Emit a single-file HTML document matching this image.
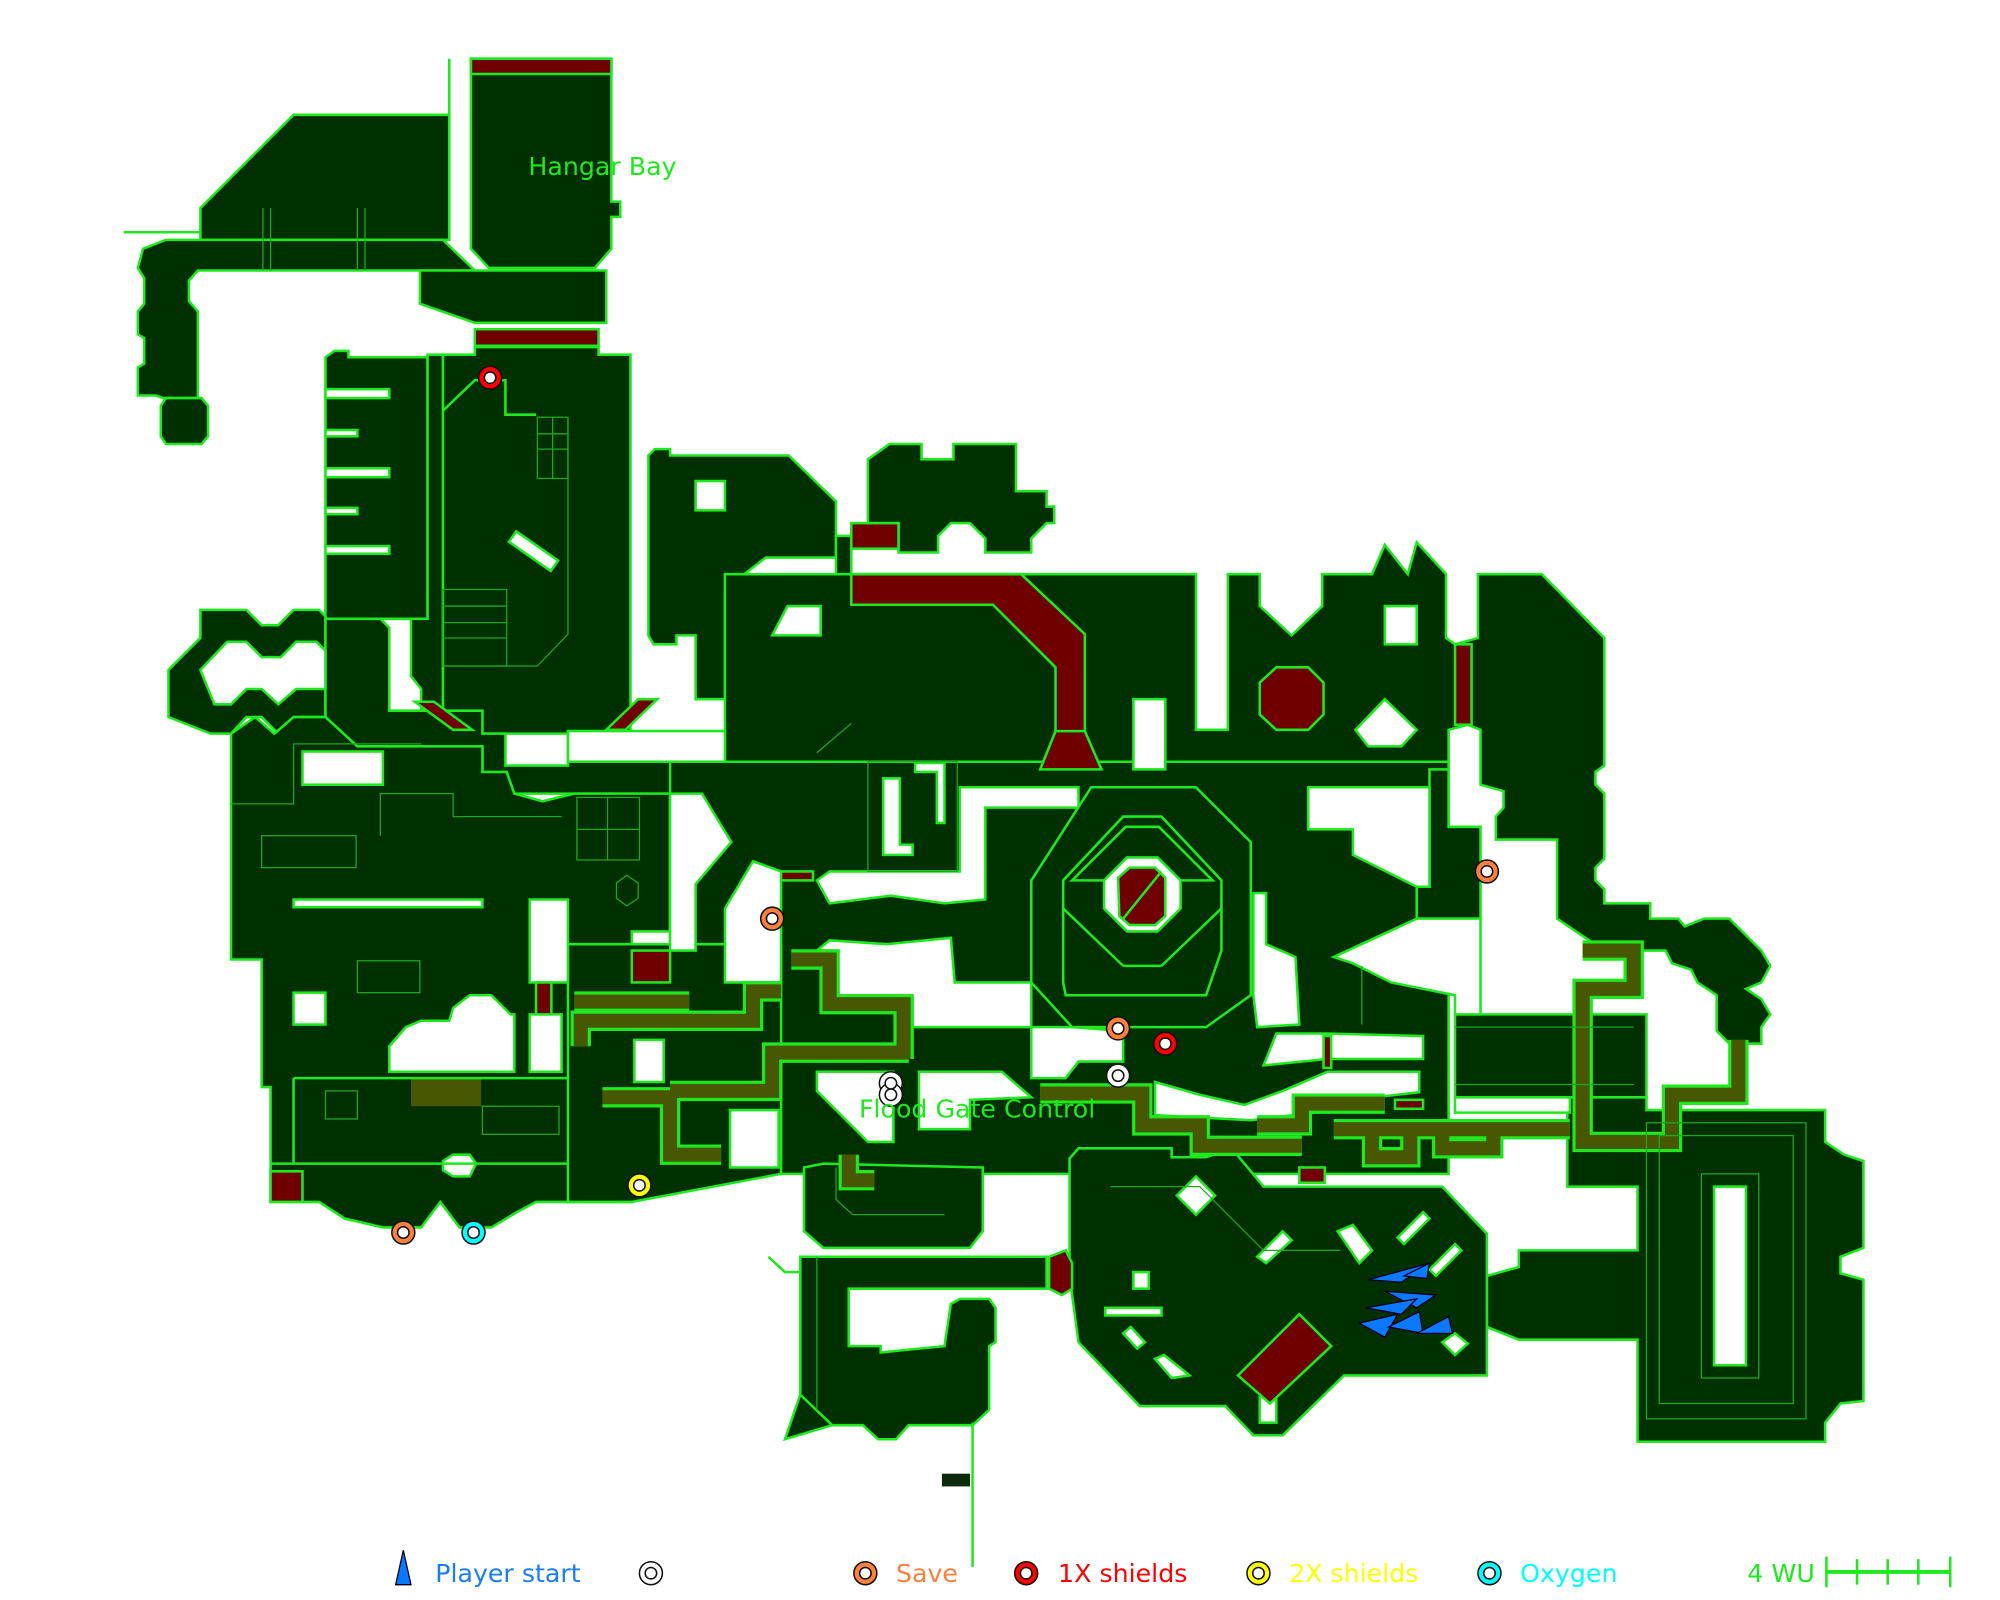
<!DOCTYPE html>
<html><head><meta charset="utf-8"><style>html,body{margin:0;padding:0;background:#fff}svg{display:block}</style></head>
<body>
<svg width="2000" height="1600" viewBox="0 0 1567 1254" preserveAspectRatio="none" xmlns="http://www.w3.org/2000/svg">
<rect width="1567" height="1254" fill="#fff"/>
<g fill="#002f00" stroke="#1ee81e" stroke-width="2" stroke-linejoin="miter">
<polygon points="157,163 230,90 352,90 352,188 157,188"/>
<polygon points="112,195 130,188 347,188 372,212 155,212 148,220 148,236 155,244 155,312 128,312 122,310 108,310 108,288 113,285 113,265 108,262 108,244 113,238 113,218 108,210"/>
<polygon points="130,312 158,312 163,318 163,342 158,348 130,348 126,342 126,318"/>
<polygon points="369,46 479,46 479,158 486,158 486,170 479,170 479,195 466,210 383,210 369,195"/>
<polygon points="329,212 475,212 475,253 372,253 329,238"/>
<polygon points="347,278 372,278 372,272 469,272 469,278 494,278 494,575 347,575"/>
<polygon points="255,280 262,275 273,275 273,280 335,280 335,485 255,485"/>
<polygon points="132,525 157,500 157,478 193,478 205,490 218,490 230,478 250,478 255,483 255,562 230,562 218,575 205,562 193,562 181,575 165,575 132,562"/>
<polygon points="255,485 298,485 305,492 305,557 378,557 378,575 396,575 396,600 445,600 445,573 568,573 568,597 548,597 548,622 378,622 378,585 280,585 255,562"/>
<polygon points="305,485 335,485 335,278 347,278 347,557 330,557 330,540 322,530 322,485"/>
<polygon points="181,575 200,562 215,575 230,562 255,562 280,585 378,585 378,605 397,605 403,622 425,628 450,622 525,622 525,730 495,730 495,942 420,942 405,950 385,962 360,962 345,942 330,962 300,962 270,955 250,942 212,942 212,852 205,852 205,752 181,752"/>
<polygon points="508,357 513,352 525,352 525,357 618,357 655,393 655,437 600,437 583,450 568,465 568,548 545,548 545,498 530,498 530,505 512,505 508,498"/>
<polygon points="680,360 697,348 722,348 722,360 747,360 747,348 796,348 796,385 820,385 820,397 826,397 826,410 820,410 808,422 808,433 772,433 772,422 760,410 745,410 735,420 735,433 704,433 704,410 680,410"/>
<polygon points="568,450 937,450 937,572 962,572 962,450 987,450 987,475 1012,498 1036,475 1036,450 1075,450 1085,427 1103,450 1110,425 1133,450 1133,500 1140,505 1158,500 1158,450 1208,450 1257,500 1257,600 1250,605 1250,615 1257,622 1257,673 1250,680 1250,690 1257,697 1257,708 1293,708 1293,720 1315,720 1320,726 1335,720 1355,720 1380,745 1387,757 1380,770 1368,775 1380,783 1387,795 1380,805 1380,818 1355,818 1345,808 1345,780 1330,770 1325,760 1310,755 1305,745 1257,745 1220,720 1220,658 1172,658 1172,640 1178,633 1178,620 1160,615 1160,572 1150,568 1135,572 1135,603 568,603"/>
<polygon points="655,420 667,420 667,450 655,450"/>
<polygon points="525,597 1135,597 1135,920 525,920"/>
<polygon points="1120,603 1135,603 1135,648 1160,648 1160,720 1110,720 1110,695 1120,695"/>
<polygon points="445,740 612,740 612,920 495,942 445,942"/>
<polygon points="1140,795 1290,795 1290,860 1140,860"/>
<polygon points="1228,860 1290,860 1290,870 1430,870 1430,895 1445,905 1460,910 1460,978 1442,985 1442,998 1460,1003 1460,1098 1442,1100 1430,1115 1430,1130 1283,1130 1283,1050 1190,1050 1165,1040 1165,1000 1190,993 1190,980 1283,980 1283,930 1228,930"/>
<polygon points="838,908 845,900 918,900 918,907 945,907 965,900 990,930 1130,930 1165,967 1165,1078 1053,1078 1005,1125 982,1125 960,1102 893,1102 845,1052 838,1000"/>
<polygon points="630,915 645,912 770,915 770,965 760,978 645,978 630,965"/>
<polygon points="627,985 820,985 820,1010 665,1010 665,1055 690,1055 690,1060 740,1055 745,1022 752,1018 775,1018 780,1025 780,1052 775,1055 775,1105 762,1117 712,1117 702,1128 688,1128 676,1117 652,1117 627,1095"/>
<polygon points="615,1128 627,1093 652,1117"/>
</g>
<g fill="#fff" stroke="#1ee81e" stroke-width="2">
<polygon points="157,525 178,503 193,503 205,515 220,515 232,503 248,503 255,510 255,540 232,540 218,552 205,540 193,540 181,552 168,552"/>
<rect x="255" y="305" width="50" height="7"/><rect x="255" y="337" width="25" height="5"/><rect x="255" y="367" width="50" height="7"/><rect x="255" y="398" width="25" height="5"/><rect x="255" y="428" width="50" height="6"/>
<rect x="545" y="377" width="23" height="23"/>
<polygon points="605,498 617,475 643,475 643,498"/>
<rect x="888" y="548" width="25" height="55"/>
<rect x="1085" y="475" width="25" height="30"/>
<polygon points="1062,572 1085,548 1110,572 1098,585 1072,585"/>
<rect x="445" y="573" width="123" height="24"/>
<rect x="237" y="589" width="63" height="26"/>
<rect x="230" y="705" width="148" height="6"/>
<rect x="230" y="778" width="25" height="25"/>
<polygon points="305,840 305,820 318,805 330,800 352,800 355,790 368,780 385,780 400,795 403,795 403,840"/>
<rect x="415" y="705" width="30" height="65"/>
<rect x="415" y="795" width="25" height="45"/>
<polygon points="525,622 550,622 573,660 545,693 545,745 525,745"/>
<polygon points="590,675 612,683 612,770 568,770 568,712"/>
<polygon points="640,690 650,683 752,683 752,617 845,617 845,633 772,633 772,705 740,708 698,702 650,708"/>
<polygon points="692,610 705,610 705,662 715,662 715,670 692,670"/>
<polygon points="717,598 740,598 740,645 734,645 734,605 717,605"/>
<polygon points="1025,617 1120,617 1120,695 1110,695 1060,670 1060,650 1025,650"/>
<polygon points="982,700 992,700 992,740 1015,750 1018,803 985,805 982,780"/>
<polygon points="1045,750 1110,720 1160,720 1160,795 1140,795 1140,780 1090,770 1060,755"/>
<polygon points="640,745 650,737 695,740 745,735 748,770 808,770 808,805 715,805 715,782 655,782 655,745"/>
<polygon points="808,805 840,805 880,808 880,832 845,832 835,845 808,845"/>
<polygon points="905,848 940,858 975,866 1005,855 1040,840 1112,840 1112,856 1060,862 1040,862 1030,872 980,878 905,874"/>
<polygon points="1000,810 1040,810 1115,812 1115,830 1040,830 990,835"/>
<polygon points="720,840 785,840 808,860 760,862 760,885 720,885"/>
<polygon points="640,840 700,840 700,895 680,895 640,855"/>
<polygon points="497,815 520,815 520,848 497,848"/>
<polygon points="572,870 610,870 610,915 572,915"/>
<polygon points="1140,860 1230,860 1230,872 1140,872"/>
<rect x="1343" y="930" width="25" height="140"/>
<polygon points="922,937 937,922 952,937 937,952"/>
<polygon points="985,985 1005,965 1012,972 992,990"/>
<polygon points="1048,965 1060,960 1075,980 1065,990"/>
<polygon points="1095,970 1115,950 1120,955 1100,975"/>
<polygon points="1120,995 1140,975 1145,980 1125,1000"/>
<rect x="888" y="997" width="12" height="13"/>
<rect x="866" y="1025" width="44" height="6"/>
<polygon points="880,1045 886,1040 897,1052 891,1057"/>
<polygon points="905,1065 912,1062 932,1078 918,1080"/>
<rect x="987" y="1095" width="13" height="20"/>
<polygon points="1130,1052 1140,1045 1150,1053 1140,1062"/>
</g>
<g fill="#700000" stroke="#1ee81e" stroke-width="2">
<rect x="369" y="46" width="110" height="12"/>
<rect x="372" y="258" width="97" height="13"/>
<polygon points="667,450 800,450 850,497 850,575 827,575 827,523 778,474 667,474"/>
<polygon points="815,603 827,573 850,573 863,603"/>
<rect x="667" y="410" width="37" height="20"/>
<polygon points="987,535 1000,523 1025,523 1037,535 1037,560 1025,572 1000,572 987,560"/>
<rect x="1140" y="505" width="13" height="63"/>
<rect x="495" y="745" width="30" height="25"/>
<rect x="420" y="770" width="12" height="25"/>
<polygon points="212,918 237,918 237,942 212,942"/>
<polygon points="970,1078 1018,1030 1043,1055 995,1100"/>
<polygon points="822,985 835,980 840,990 840,1010 832,1015 822,1010"/>
<polygon points="325,550 340,550 370,572 355,572"/>
<polygon points="475,572 500,548 515,548 490,572"/>
<rect x="612" y="683" width="25" height="7"/>
<rect x="882" y="783" width="23" height="7"/>
<rect x="1093" y="862" width="22" height="7"/>
<rect x="1037" y="812" width="6" height="25"/>
<rect x="1018" y="915" width="20" height="12"/>
</g>
<g fill="none" stroke="#1ee81e" stroke-width="2">
<polygon points="808,690 855,617 937,617 980,660 980,780 945,805 840,805 808,770" fill="#002f00"/>
<polygon points="833,690 880,640 910,640 957,690 957,745 945,780 835,780 833,770"/>
<polygon points="840,690 882,648 908,648 950,690"/>
<polygon points="865,690 883,672 907,672 925,690 925,712 907,730 883,730 865,712" fill="#fff"/>
<polygon points="876,688 885,680 905,680 913,688 913,718 905,725 885,725 877,718" fill="#700000"/>
<line x1="880" y1="720" x2="910" y2="683"/>
<line x1="833" y1="712" x2="880" y2="757"/><line x1="957" y1="712" x2="910" y2="757"/>
<line x1="880" y1="757" x2="910" y2="757"/>
</g>
<g fill="none" stroke-linejoin="miter">
<g stroke="#1ee81e" stroke-width="16">
<polyline points="620,752 650,752 650,787 708,787 708,830"/>
<polyline points="612,777 590,777 590,800 455,800 455,820"/>
<polyline points="450,785 540,785"/>
<polyline points="472,860 525,860 525,905 565,905"/>
<polyline points="525,855 605,855 605,825 712,825"/>
<polyline points="815,857 895,857 895,882 940,882 940,898 1020,898"/>
<polyline points="985,882 1020,882 1020,865 1085,865"/>
<polyline points="1045,885 1230,885"/>
<polyline points="1075,885 1075,907 1105,907 1105,880"/>
<polyline points="1130,880 1130,900 1170,900 1170,880"/>
<polyline points="1240,745 1280,745 1280,775 1240,775 1240,895 1310,895 1310,858 1362,858 1362,815"/>
<polyline points="665,905 665,925 685,925"/>
</g>
<g stroke="#485800" stroke-width="11">
<polyline points="620,752 650,752 650,787 708,787 708,830"/>
<polyline points="612,777 590,777 590,800 455,800 455,820"/>
<polyline points="450,785 540,785"/>
<polyline points="472,860 525,860 525,905 565,905"/>
<polyline points="525,855 605,855 605,825 712,825"/>
<polyline points="815,857 895,857 895,882 940,882 940,898 1020,898"/>
<polyline points="985,882 1020,882 1020,865 1085,865"/>
<polyline points="1045,885 1230,885"/>
<polyline points="1075,885 1075,907 1105,907 1105,880"/>
<polyline points="1130,880 1130,900 1170,900 1170,880"/>
<polyline points="1240,745 1280,745 1280,775 1240,775 1240,895 1310,895 1310,858 1362,858 1362,815"/>
<polyline points="665,905 665,925 685,925"/>
</g>
<rect x="322" y="845" width="55" height="22" fill="#485800" stroke="none"/>
</g>
<g fill="none" stroke="#1ea81e" stroke-width="1">
<rect x="421" y="327" width="24" height="48"/><line x1="421" y1="340" x2="445" y2="340"/><line x1="421" y1="352" x2="445" y2="352"/><line x1="433" y1="327" x2="433" y2="375"/>
<polyline points="445,327 445,497 421,522 347,522"/>
<rect x="347" y="462" width="50" height="60"/>
<line x1="347" y1="475" x2="397" y2="475"/><line x1="347" y1="488" x2="397" y2="488"/><line x1="347" y1="500" x2="397" y2="500"/>
<rect x="205" y="655" width="74" height="25"/><rect x="280" y="753" width="49" height="25"/>
<rect x="452" y="625" width="49" height="49"/><line x1="476" y1="625" x2="476" y2="674"/><line x1="452" y1="650" x2="501" y2="650"/>
<polygon points="483,692 491,686 500,692 500,704 491,710 483,704"/>
<polyline points="181,630 230,630 230,583 330,583"/>
<polyline points="298,655 298,622 355,622 355,640 440,640"/>
<rect x="680" y="597" width="70" height="86"/>
<line x1="640" y1="590" x2="667" y2="567"/>
<rect x="255" y="855" width="25" height="22"/><rect x="378" y="867" width="60" height="22"/>
<line x1="206" y1="163" x2="206" y2="212"/><line x1="212" y1="163" x2="212" y2="212"/><line x1="280" y1="163" x2="280" y2="212"/><line x1="286" y1="163" x2="286" y2="212"/>
<rect x="1290" y="880" width="125" height="232"/><rect x="1300" y="890" width="105" height="210"/>
<rect x="1333" y="920" width="45" height="160"/>
<line x1="1140" y1="805" x2="1280" y2="805"/><line x1="1140" y1="850" x2="1280" y2="850"/>
<polyline points="870,930 940,930 990,980 1050,980"/>
<line x1="640" y1="985" x2="640" y2="1105"/>
<polyline points="655,915 655,940 668,952 740,952"/>
<line x1="1067" y1="757" x2="1067" y2="803"/>
</g>
<g stroke="#1ee81e" stroke-width="2" fill="none">
<line x1="352" y1="46" x2="352" y2="183"/>
<line x1="97" y1="182" x2="157" y2="182"/>
<line x1="762" y1="1115" x2="762" y2="1228"/>
<polyline points="602,985 615,997 627,997"/>
<polyline points="347,322 372,298 396,298 396,325 420,325"/>
<rect x="398" y="427" width="40" height="10" transform="rotate(35 418 432)" fill="#fff"/>
<polygon points="347,910 355,905 368,905 373,912 368,922 355,922 347,917" fill="#fff"/>
<line x1="212" y1="912" x2="445" y2="912"/>
<line x1="230" y1="845" x2="230" y2="912"/><line x1="230" y1="845" x2="445" y2="845"/>
</g>
<rect x="738" y="1155" width="22" height="10" fill="#0d2a0d"/>
<g fill="#0a78ff" stroke="#002" stroke-width="1">
<polygon points="1072,1003 1120,990 1098,1005"/>
<polygon points="1085,1012 1125,1015 1110,1025"/>
<polygon points="1070,1025 1110,1018 1098,1030"/>
<polygon points="1065,1037 1095,1030 1085,1048"/>
<polygon points="1088,1040 1112,1028 1115,1045"/>
<polygon points="1110,1045 1135,1032 1138,1045"/>
<polygon points="1100,1000 1120,990 1118,1002"/>
</g>
<g stroke="#111" stroke-width="1.2">
<g fill="#ff0000"><circle cx="384" cy="296" r="9"/><circle cx="913" cy="818" r="9"/><circle cx="804" cy="1233" r="9"/></g>
<g fill="#ff7f40"><circle cx="605" cy="720" r="9"/><circle cx="1165" cy="683" r="9"/><circle cx="876" cy="806" r="9"/><circle cx="316" cy="966" r="9"/><circle cx="678" cy="1233" r="9"/></g>
<g fill="#ffffff"><circle cx="876" cy="843" r="9"/><circle cx="698" cy="849" r="9"/><circle cx="698" cy="858" r="9"/><circle cx="510" cy="1233" r="9"/></g>
<g fill="#ffff00"><circle cx="501" cy="929" r="9"/><circle cx="986" cy="1233" r="9"/></g>
<g fill="#00ffff"><circle cx="371" cy="966" r="9"/><circle cx="1167" cy="1233" r="9"/></g>
<g fill="#fff"><circle cx="384" cy="296" r="4.5"/><circle cx="913" cy="818" r="4.5"/><circle cx="804" cy="1233" r="4.5"/><circle cx="605" cy="720" r="4.5"/><circle cx="1165" cy="683" r="4.5"/><circle cx="876" cy="806" r="4.5"/><circle cx="316" cy="966" r="4.5"/><circle cx="678" cy="1233" r="4.5"/><circle cx="876" cy="843" r="4.5"/><circle cx="698" cy="849" r="4.5"/><circle cx="698" cy="858" r="4.5"/><circle cx="510" cy="1233" r="4.5"/><circle cx="501" cy="929" r="4.5"/><circle cx="986" cy="1233" r="4.5"/><circle cx="371" cy="966" r="4.5"/><circle cx="1167" cy="1233" r="4.5"/></g>
</g>
<g font-family="DejaVu Sans, Liberation Sans, sans-serif" font-size="19.8">
<text x="414" y="137" fill="#1ee81e">Hangar Bay</text>
<text x="673" y="876" fill="#1ee81e">Flood Gate Control</text>
<text x="341" y="1240" fill="#1a7cff">Player start</text>
<text x="702" y="1240" fill="#ff7f40">Save</text>
<text x="829" y="1240" fill="#ff0000">1X shields</text>
<text x="1010" y="1240" fill="#ffff00">2X shields</text>
<text x="1191" y="1240" fill="#00ffff">Oxygen</text>
<text x="1369" y="1240" fill="#1ee81e">4 WU</text>
</g>
<polygon points="310,1242 316,1215 322,1242" fill="#0a78ff" stroke="#002" stroke-width="1"/>
<g stroke="#1ee81e" stroke-width="2">
<line x1="1430" y1="1232" x2="1528" y2="1232" stroke-width="3"/>
<line x1="1431" y1="1220" x2="1431" y2="1244"/><line x1="1455" y1="1222" x2="1455" y2="1242"/><line x1="1479" y1="1222" x2="1479" y2="1242"/><line x1="1503" y1="1222" x2="1503" y2="1242"/><line x1="1528" y1="1220" x2="1528" y2="1244"/>
</g>
</svg>
</body></html>
